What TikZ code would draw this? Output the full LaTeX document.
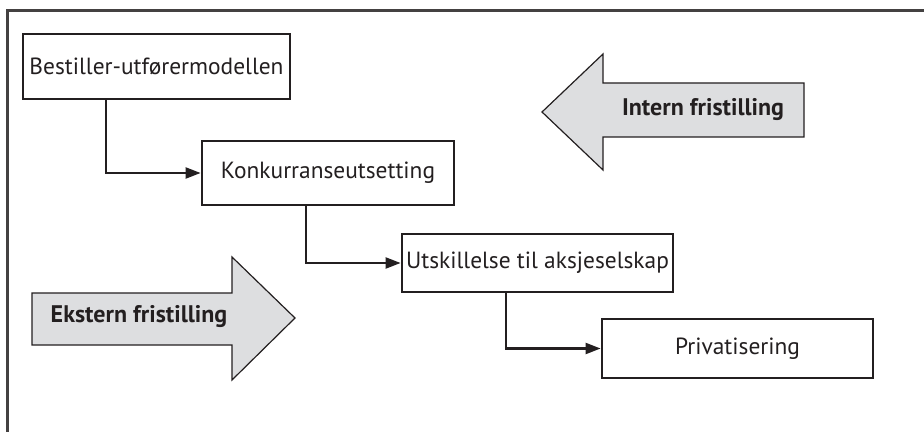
\documentclass[tikz,border=0pt]{standalone}
\usepackage{fontspec}
\setmainfont{PT Sans}
\usepackage{tikz}
\usetikzlibrary{arrows.meta}

\definecolor{ink}{RGB}{35,31,32}
\definecolor{arrowgray}{RGB}{221,222,224}

\begin{document}
\begin{tikzpicture}[x=0.5pt,y=-0.5pt,
    box/.style={draw=ink,line width=1.4pt,fill=white,font=\fontsize{11.7}{13}\selectfont,
                inner sep=0pt,text=ink},
    conn/.style={draw=ink,line width=1.1pt,-{Triangle[length=7.5pt,width=5.5pt]}},
    bigarrow/.style={draw=ink,line width=0.6pt,fill=arrowgray,line join=miter},
    arrowlabel/.style={font=\fontsize{12}{14}\selectfont\bfseries,inner sep=0pt,text=ink}]
    \useasboundingbox (0,0) rectangle (924,432);
    % outer frame, runs past the page on the right and at the bottom
    \draw[draw=ink!85,line width=1.5pt] (7,11) rectangle (960,470);

    % the two broad arrows
    \draw[bigarrow] (804,83) -- (603,83) -- (603,54) -- (542,112) -- (603,170)
                    -- (603,137) -- (804,137) -- cycle;
    \node[arrowlabel] (intern) at (703,110) {Intern fristilling};
    \draw[bigarrow] (32,293) -- (232,293) -- (232,257) -- (295,318) -- (232,380)
                    -- (232,345) -- (32,345) -- cycle;
    \node[arrowlabel] (ekstern) at (139,317) {Ekstern fristilling};

    % the four steps
    \node[box,minimum width=133.5pt,minimum height=32.5pt] (b1) at (156.5,66.5) {Bestiller-utførermodellen};
    \node[box,minimum width=126pt,minimum height=32pt] (b2) at (328,173) {Konkurranseutsetting};
    \node[box,minimum width=135.5pt,minimum height=29pt] (b3) at (537.5,263) {Utskillelse til aksjeselskap};
    \node[box,minimum width=135.5pt,minimum height=29.5pt] (b4) at (737.5,348.5) {Privatisering};

    \foreach \a/\b/\x in {b1/b2/106,b2/b3/306,b3/b4/506}{
        \draw[conn] (\a.south -| \x,0) |- (\b.west);
    }
\end{tikzpicture}
\end{document}
